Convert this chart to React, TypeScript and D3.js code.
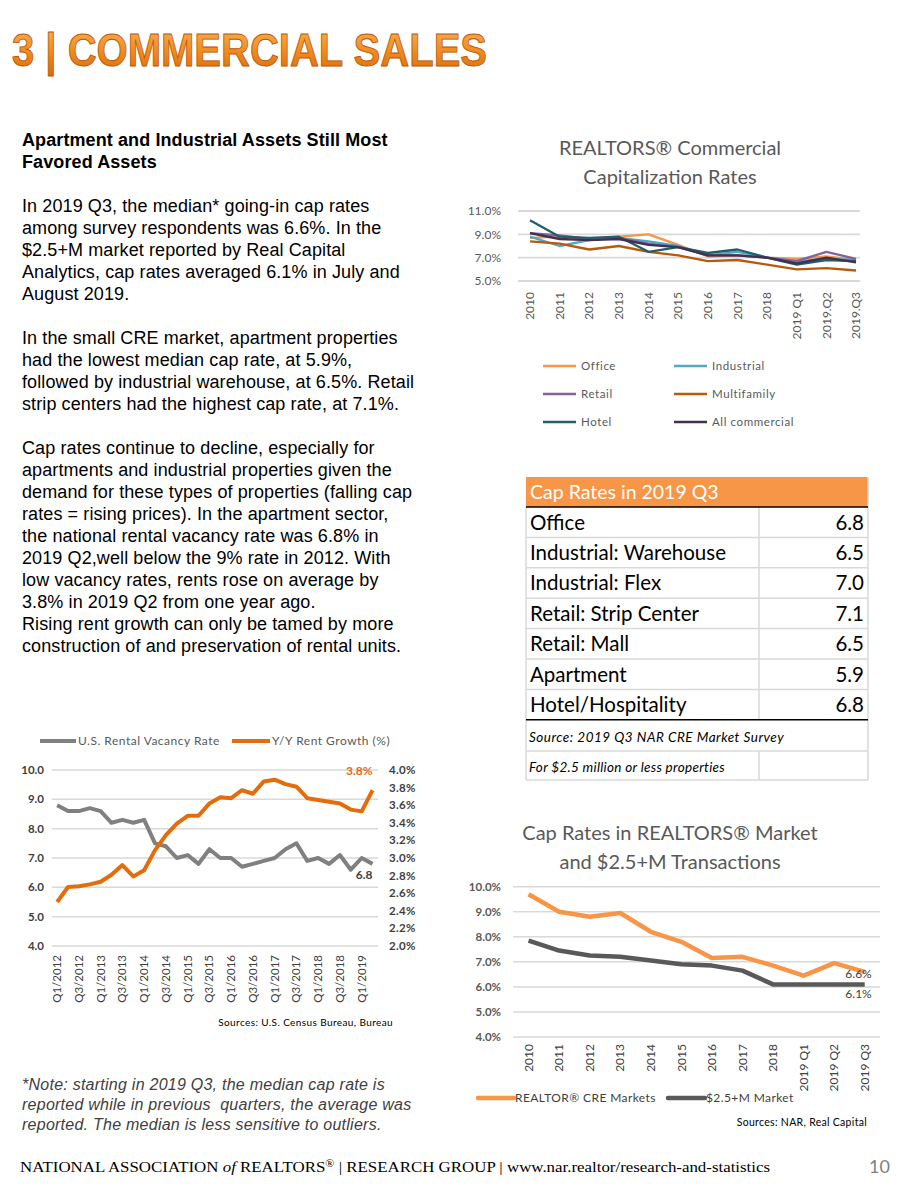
import React from 'react';
import * as d3 from 'd3';

// ---- top-right chart: REALTORS Commercial Capitalization Rates
const topCats = ['2010', '2011', '2012', '2013', '2014', '2015', '2016', '2017', '2018', '2019 Q1', '2019.Q2', '2019.Q3'];
const office = [8.7, 8.8, 8.6, 8.8, 9.0, 8.1, 7.1, 7.2, 7.0, 6.9, 7.1, 6.8];
const industrial = [8.8, 8.0, 8.5, 8.7, 8.4, 8.0, 7.2, 7.5, 7.0, 6.7, 6.9, 6.8];
const retail = [9.1, 8.9, 8.6, 8.7, 8.2, 7.9, 7.2, 7.2, 7.0, 6.7, 7.5, 6.9];
const multifamily = [8.4, 8.2, 7.7, 8.0, 7.5, 7.2, 6.7, 6.8, 6.4, 6.0, 6.1, 5.9];
const hotel = [10.2, 8.8, 8.7, 8.8, 7.5, 7.9, 7.4, 7.7, 7.0, 6.4, 6.8, 6.7];
const allCommercial = [9.1, 8.6, 8.5, 8.6, 8.1, 7.9, 7.2, 7.2, 7.0, 6.5, 7.0, 6.6];
const topTicks = [5, 7, 9, 11];

// ---- table
const tableLabels = ['Office', 'Industrial: Warehouse', 'Industrial: Flex', 'Retail: Strip Center', 'Retail: Mall', 'Apartment', 'Hotel/Hospitality'];
const tableValues = ['6.8', '6.5', '7.0', '7.1', '6.5', '5.9', '6.8'];

// ---- bottom-left chart: vacancy vs rent growth
const quarters = [
  'Q1/2012', 'Q2/2012', 'Q3/2012', 'Q4/2012', 'Q1/2013', 'Q2/2013', 'Q3/2013', 'Q4/2013',
  'Q1/2014', 'Q2/2014', 'Q3/2014', 'Q4/2014', 'Q1/2015', 'Q2/2015', 'Q3/2015', 'Q4/2015',
  'Q1/2016', 'Q2/2016', 'Q3/2016', 'Q4/2016', 'Q1/2017', 'Q2/2017', 'Q3/2017', 'Q4/2017',
  'Q1/2018', 'Q2/2018', 'Q3/2018', 'Q4/2018', 'Q1/2019', 'Q2/2019',
];
const vacancy = [8.8, 8.6, 8.6, 8.7, 8.6, 8.2, 8.3, 8.2, 8.3, 7.5, 7.4, 7.0, 7.1, 6.8, 7.3, 7.0, 7.0, 6.7, 6.8, 6.9, 7.0, 7.3, 7.5, 6.9, 7.0, 6.8, 7.1, 6.6, 7.0, 6.8];
const rentGrowth = [2.5, 2.67, 2.68, 2.7, 2.73, 2.81, 2.92, 2.79, 2.86, 3.09, 3.26, 3.39, 3.48, 3.48, 3.62, 3.69, 3.68, 3.77, 3.73, 3.87, 3.89, 3.84, 3.81, 3.68, 3.66, 3.64, 3.62, 3.55, 3.53, 3.77];
const vacTicks = [4, 5, 6, 7, 8, 9, 10];
const rentTicks = [2.0, 2.2, 2.4, 2.6, 2.8, 3.0, 3.2, 3.4, 3.6, 3.8, 4.0];

// ---- bottom-right chart
const brCats = ['2010', '2011', '2012', '2013', '2014', '2015', '2016', '2017', '2018', '2019 Q1', '2019 Q2', '2019 Q3'];
const realtorCre = [9.7, 9.0, 8.8, 8.95, 8.2, 7.8, 7.15, 7.2, 6.85, 6.45, 6.95, 6.6];
const market25 = [7.85, 7.45, 7.25, 7.2, 7.05, 6.9, 6.85, 6.65, 6.1, 6.1, 6.1, 6.1];
const brTicks = [4, 5, 6, 7, 8, 9, 10];

const bodyLines = [
  'In 2019 Q3, the median* going-in cap rates',
  'among survey respondents was 6.6%. In the',
  '$2.5+M market reported by Real Capital',
  'Analytics, cap rates averaged 6.1% in July and',
  'August 2019.',
  '',
  'In the small CRE market, apartment properties',
  'had the lowest median cap rate, at 5.9%,',
  'followed by industrial warehouse, at 6.5%. Retail',
  'strip centers had the highest cap rate, at 7.1%.',
  '',
  'Cap rates continue to decline, especially for',
  'apartments and industrial properties given the',
  'demand for these types of properties (falling cap',
  'rates = rising prices). In the apartment sector,',
  'the national rental vacancy rate was 6.8% in',
  '2019 Q2,well below the 9% rate in 2012. With',
  'low vacancy rates, rents rose on average by',
  '3.8% in 2019 Q2 from one year ago.',
  'Rising rent growth can only be tamed by more',
  'construction of and preservation of rental units.',
];

const noteLines = [
  '*Note: starting in 2019 Q3, the median cap rate is',
  'reported while in previous  quarters, the average was',
  'reported. The median is less sensitive to outliers.',
];

const CAL = 'Lato, "Open Sans", sans-serif';
const ARIAL = '"Liberation Sans", Arial, sans-serif';

const TopChart: React.FC = () => {
  const x = d3.scalePoint<string>().domain(topCats).range([530, 856]);
  const y = d3.scaleLinear().domain([5, 11]).range([281, 211]);
  const line = (vals: number[]) =>
    d3.line<number>().x((_, i) => x(topCats[i])!).y(d => y(d))(vals) || '';
  const series = [
    { name: 'Office', vals: office, color: '#F79646' },
    { name: 'Industrial', vals: industrial, color: '#4BACC6' },
    { name: 'Retail', vals: retail, color: '#8064A2' },
    { name: 'Multifamily', vals: multifamily, color: '#B9590C' },
    { name: 'Hotel', vals: hotel, color: '#215F6B' },
    { name: 'All commercial', vals: allCommercial, color: '#403152' },
  ];
  return (
    <g>
      <text x={670} y={155} textAnchor="middle" fontFamily={CAL} fontSize={20} fill="#595959">REALTORS® Commercial</text>
      <text x={670} y={184} textAnchor="middle" fontFamily={CAL} fontSize={20} fill="#595959">Capitalization Rates</text>
      {topTicks.map(t => (
        <g key={t}>
          <line x1={518} x2={860} y1={y(t)} y2={y(t)} stroke="#D9D9D9" strokeWidth={1.8} />
          <text x={501} y={y(t)} dy="0.35em" textAnchor="end" fontFamily={CAL} fontSize={12} fill="#595959">{t.toFixed(1)}%</text>
        </g>
      ))}
      {series.map(s => (
        <path key={s.name} d={line(s.vals)} fill="none" stroke={s.color} strokeWidth={2.3} strokeLinejoin="round" />
      ))}
      {topCats.map(c => (
        <text key={c} transform={`translate(${x(c)},292) rotate(-90)`} dy="0.35em" textAnchor="end" fontFamily={CAL} fontSize={12} fill="#595959">{c}</text>
      ))}
      {series.map((s, i) => {
        const col = i % 2;
        const row = Math.floor(i / 2);
        const lx = col === 0 ? 543 : 674;
        const ly = 366 + row * 28;
        return (
          <g key={s.name}>
            <line x1={lx} x2={lx + 33} y1={ly} y2={ly} stroke={s.color} strokeWidth={2.3} />
            <text x={lx + 38} y={ly} dy="0.35em" fontFamily={CAL} fontSize={11.5} fill="#595959" letterSpacing={0.6}>{s.name}</text>
          </g>
        );
      })}
    </g>
  );
};

const CapTable: React.FC = () => {
  const left = 526;
  const right = 868;
  const divX = 759;
  const headTop = 477;
  const rowTop = 507;
  const rowH = 30.4;
  const rowsBottom = rowTop + rowH * tableLabels.length;
  return (
    <g>
      <rect x={left} y={headTop} width={right - left} height={rowTop - headTop} fill="#F79646" />
      <text x={left + 4} y={headTop + 15} dy="0.35em" fontFamily={CAL} fontSize={19.5} fill="#FFFFFF">Cap Rates in 2019 Q3</text>
      {tableLabels.map((lab, i) => {
        const ry = rowTop + i * rowH;
        return (
          <g key={lab}>
            <text x={left + 4} y={ry + rowH / 2} dy="0.36em" fontFamily={CAL} fontSize={20.5} fill="#000">{lab}</text>
            <text x={right - 4} y={ry + rowH / 2} dy="0.36em" textAnchor="end" fontFamily={CAL} fontSize={20.5} fill="#000">{tableValues[i]}</text>
            {i > 0 && <line x1={left} x2={right} y1={ry} y2={ry} stroke="#D9D9D9" strokeWidth={1.5} />}
          </g>
        );
      })}
      <line x1={left} x2={right} y1={751} y2={751} stroke="#D9D9D9" strokeWidth={1.5} />
      <line x1={left} x2={right} y1={780} y2={780} stroke="#D9D9D9" strokeWidth={1.5} />
      <line x1={left} x2={left} y1={rowTop} y2={780} stroke="#D9D9D9" strokeWidth={1.5} />
      <line x1={right} x2={right} y1={headTop} y2={780} stroke="#D9D9D9" strokeWidth={1.5} />
      <line x1={divX} x2={divX} y1={rowTop} y2={rowsBottom} stroke="#D9D9D9" strokeWidth={1.5} />
      <line x1={divX} x2={divX} y1={751} y2={780} stroke="#D9D9D9" strokeWidth={1.5} />
      <line x1={left} x2={right} y1={rowTop} y2={rowTop} stroke="#000" strokeWidth={1.5} />
      <line x1={left} x2={right} y1={rowsBottom} y2={rowsBottom} stroke="#000" strokeWidth={1.5} />
      <text x={left + 3} y={737} dy="0.35em" fontFamily={CAL} fontStyle="italic" fontSize={13.5} letterSpacing={0.5} fill="#000">Source: 2019 Q3 NAR CRE Market Survey</text>
      <text x={left + 3} y={767} dy="0.35em" fontFamily={CAL} fontStyle="italic" fontSize={13.5} letterSpacing={0.3} fill="#000">For $2.5 million or less properties</text>
    </g>
  );
};

const VacancyChart: React.FC = () => {
  const x = d3.scaleBand<string>().domain(quarters).range([51.7, 378]);
  const cx = (q: string) => x(q)! + x.bandwidth() / 2;
  const yL = d3.scaleLinear().domain([4, 10]).range([946, 770]);
  const yR = d3.scaleLinear().domain([2, 4]).range([946, 770]);
  const vacPath = d3.line<number>().x((_, i) => cx(quarters[i])).y(d => yL(d))(vacancy) || '';
  const rentPath = d3.line<number>().x((_, i) => cx(quarters[i])).y(d => yR(d))(rentGrowth) || '';
  const last = quarters.length - 1;
  return (
    <g>
      <line x1={40} x2={76} y1={741} y2={741} stroke="#808080" strokeWidth={4} />
      <text x={78} y={741} dy="0.35em" fontFamily={CAL} fontSize={12} fill="#595959" letterSpacing={0.5}>U.S. Rental Vacancy Rate</text>
      <line x1={232} x2={270} y1={741} y2={741} stroke="#E46C0A" strokeWidth={4} />
      <text x={272} y={741} dy="0.35em" fontFamily={CAL} fontSize={12} fill="#595959" letterSpacing={0.5}>Y/Y Rent Growth (%)</text>
      {vacTicks.map(t => (
        <g key={t}>
          <line x1={51.7} x2={378} y1={yL(t)} y2={yL(t)} stroke="#D9D9D9" strokeWidth={1.5} />
          <text x={44} y={yL(t)} dy="0.35em" textAnchor="end" fontFamily={CAL} fontWeight="bold" fontSize={11.5} fill="#404040">{t.toFixed(1)}</text>
        </g>
      ))}
      {rentTicks.map(t => (
        <text key={t} x={389} y={yR(t)} dy="0.35em" fontFamily={CAL} fontWeight="bold" fontSize={11.5} fill="#404040" letterSpacing={0.3}>{t.toFixed(1)}%</text>
      ))}
      <path d={vacPath} fill="none" stroke="#808080" strokeWidth={4} strokeLinejoin="round" />
      <path d={rentPath} fill="none" stroke="#E46C0A" strokeWidth={4} strokeLinejoin="round" />
      <text x={cx(quarters[last])} y={yR(rentGrowth[last]) - 15} textAnchor="end" fontFamily={CAL} fontWeight="bold" fontSize={12} fill="#E46C0A">3.8%</text>
      <text x={cx(quarters[last])} y={yL(vacancy[last]) + 15} textAnchor="end" fontFamily={CAL} fontWeight="bold" fontSize={12} fill="#404040">6.8</text>
      {quarters.filter((_, i) => i % 2 === 0).map(q => (
        <text key={q} transform={`translate(${cx(q)},955) rotate(-90)`} dy="0.35em" textAnchor="end" fontFamily={CAL} fontSize={11.5} fill="#404040">{q}</text>
      ))}
      <text x={393} y={1022} dy="0.35em" textAnchor="end" fontFamily={CAL} fontSize={10} fill="#000" letterSpacing={0.4}>Sources: U.S. Census Bureau, Bureau</text>
    </g>
  );
};

const MarketChart: React.FC = () => {
  const x = d3.scaleBand<string>().domain(brCats).range([513.3, 880]);
  const cx = (c: string) => x(c)! + x.bandwidth() / 2;
  const y = d3.scaleLinear().domain([4, 10]).range([1037, 886.7]);
  const mk = (vals: number[]) => d3.line<number>().x((_, i) => cx(brCats[i])).y(d => y(d))(vals) || '';
  const last = brCats.length - 1;
  return (
    <g>
      <text x={670} y={840} textAnchor="middle" fontFamily={CAL} fontSize={20} fill="#595959">Cap Rates in REALTORS® Market</text>
      <text x={670} y={869} textAnchor="middle" fontFamily={CAL} fontSize={20} fill="#595959">and $2.5+M Transactions</text>
      {brTicks.map(t => (
        <g key={t}>
          <line x1={513.3} x2={880} y1={y(t)} y2={y(t)} stroke="#D9D9D9" strokeWidth={1.5} />
          <text x={501} y={y(t)} dy="0.35em" textAnchor="end" fontFamily={CAL} fontWeight="bold" fontSize={11.5} fill="#595959">{t.toFixed(1)}%</text>
        </g>
      ))}
      <path d={mk(realtorCre)} fill="none" stroke="#F79646" strokeWidth={4.5} strokeLinejoin="round" />
      <path d={mk(market25)} fill="none" stroke="#595959" strokeWidth={4.5} strokeLinejoin="round" />
      <text x={cx(brCats[last]) + 7} y={y(realtorCre[last]) + 6} textAnchor="end" fontFamily={CAL} fontSize={12} fill="#404040">6.6%</text>
      <text x={cx(brCats[last]) + 7} y={y(market25[last]) + 14} textAnchor="end" fontFamily={CAL} fontSize={12} fill="#404040">6.1%</text>
      {brCats.map(c => (
        <text key={c} transform={`translate(${cx(c)},1044) rotate(-90)`} dy="0.35em" textAnchor="end" fontFamily={CAL} fontSize={12} fill="#404040">{c}</text>
      ))}
      <line x1={478} x2={514} y1={1098} y2={1098} stroke="#F79646" strokeWidth={4.5} strokeLinecap="round" />
      <text x={515} y={1098} dy="0.35em" fontFamily={CAL} fontSize={12} fill="#404040" letterSpacing={0.4}>REALTOR® CRE Markets</text>
      <line x1={668} x2={705} y1={1098} y2={1098} stroke="#595959" strokeWidth={4.5} strokeLinecap="round" />
      <text x={706} y={1098} dy="0.35em" fontFamily={CAL} fontSize={12} fill="#404040" letterSpacing={0.4}>$2.5+M Market</text>
      <text x={867} y={1122} dy="0.35em" textAnchor="end" fontFamily={CAL} fontSize={10.5} fill="#000" letterSpacing={0.3}>Sources: NAR, Real Capital</text>
    </g>
  );
};

export default function App() {
  return (
    <svg width={900} height={1200} viewBox="0 0 900 1200" style={{ position: 'absolute', left: 0, top: 0, background: '#fff' }}>
      <defs>
        <linearGradient id="titleGrad" x1="0" y1="0" x2="0" y2="1">
          <stop offset="0%" stopColor="#FBB45A" />
          <stop offset="55%" stopColor="#F08A1E" />
          <stop offset="100%" stopColor="#D96A08" />
        </linearGradient>
      </defs>
      <rect x={0} y={0} width={900} height={1200} fill="#fff" />
      <text x={12} y={66} fontFamily={ARIAL} fontWeight="bold" fontSize={47} fill="url(#titleGrad)" stroke="#B8580A" strokeWidth={0.9} textLength={475} lengthAdjust="spacingAndGlyphs">3 | COMMERCIAL SALES</text>

      <text x={22} y={146} fontFamily={ARIAL} fontWeight="bold" fontSize={18} fill="#000" letterSpacing={0.1}>Apartment and Industrial Assets Still Most</text>
      <text x={22} y={168} fontFamily={ARIAL} fontWeight="bold" fontSize={18} fill="#000" letterSpacing={0.1}>Favored Assets</text>
      {bodyLines.map((l, i) => (
        <text key={i} x={22} y={212 + i * 22} fontFamily={ARIAL} fontSize={18} fill="#000" letterSpacing={0.1}>{l}</text>
      ))}

      <TopChart />
      <CapTable />
      <VacancyChart />
      <MarketChart />

      {noteLines.map((l, i) => (
        <text key={i} x={22} y={1090 + i * 20} fontFamily={ARIAL} fontStyle="italic" fontSize={16} fill="#404040" letterSpacing={0.25} style={{ whiteSpace: 'pre' }}>{l}</text>
      ))}

      <text x={20} y={1172} fontFamily='"Liberation Serif", "Times New Roman", serif' fontSize={14} fill="#000" textLength={750} lengthAdjust="spacingAndGlyphs">
        NATIONAL ASSOCIATION <tspan fontStyle="italic">of</tspan> REALTORS<tspan fontSize={10} dy={-5}>®</tspan><tspan dy={5}> | RESEARCH GROUP | www.nar.realtor/research-and-statistics</tspan>
      </text>
      <text x={890} y={1173} textAnchor="end" fontFamily={CAL} fontSize={18} fill="#808080">10</text>
    </svg>
  );
}
